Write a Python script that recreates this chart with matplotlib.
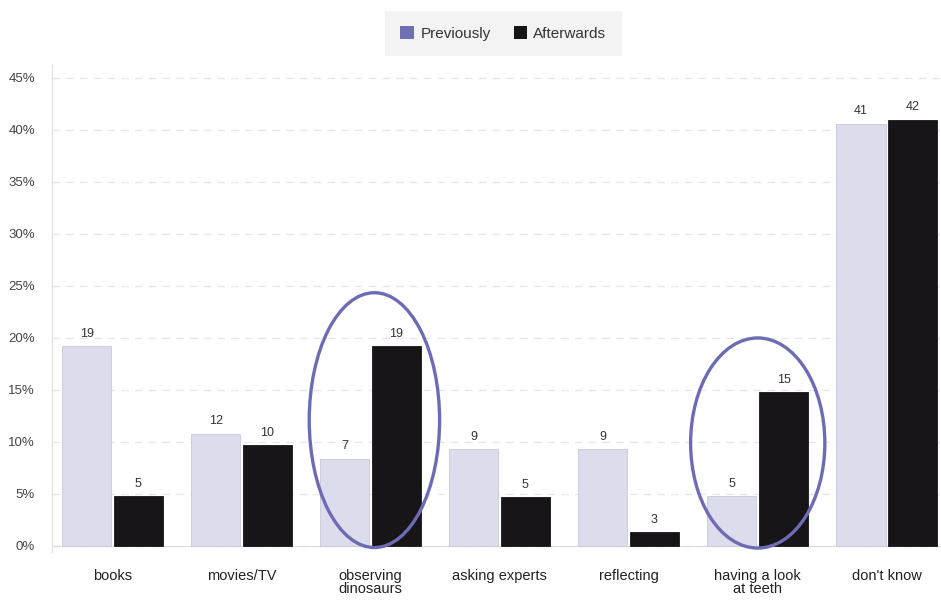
import numpy as np
import matplotlib.pyplot as plt
from matplotlib.patches import Ellipse, Patch

plt.rcParams['font.family'] = ['Liberation Sans Narrow', 'Liberation Sans', 'DejaVu Sans']

categories = ['books', 'movies/TV', 'observing\ndinosaurs', 'asking experts',
              'reflecting', 'having a look\nat teeth', "don't know"]
previously = [19.2, 10.8, 8.4, 9.3, 9.3, 4.8, 40.6]
afterwards = [4.8, 9.7, 19.2, 4.7, 1.3, 14.8, 41.0]
prev_labels = ['19', '12', '7', '9', '9', '5', '41']
after_labels = ['5', '10', '19', '5', '3', '15', '42']
yticks = [0, 5, 10, 15, 20, 25, 30, 35, 40, 45]

# ellipses: (category index, center %, width in categories, height %)
circled = [(2.03, 12.1, 1.01, 24.5), (5.0, 9.9, 1.04, 20.2)]

fig = plt.figure(figsize=(9.41, 6.01), dpi=100)
ax = fig.add_axes([0.055, 0.0815, 0.945, 0.8105])

x = np.arange(len(categories))
w = 0.38
ax.bar(x - 0.2, previously, w, color='#dcdcec', edgecolor='#c8c8d8', linewidth=0.6, zorder=2)
ax.bar(x + 0.2, afterwards, w, color='#171517', edgecolor='#171517', linewidth=0.6, zorder=2)

for i in range(len(categories)):
    ax.text(x[i] - 0.2, previously[i] + 0.6, prev_labels[i], ha='center', va='bottom',
            fontsize=9, color='#333333')
    ax.text(x[i] + 0.2, afterwards[i] + 0.6, after_labels[i], ha='center', va='bottom',
            fontsize=9, color='#333333')

for cx, cy, ew, eh in circled:
    ax.add_patch(Ellipse((cx, cy), ew, eh, fill=False, edgecolor='#6c6cb6',
                         linewidth=2.4, zorder=3))

ax.set_xlim(-0.47, 6.42)
ax.set_ylim(-0.58, 46.25)
ax.set_yticks(yticks)
ax.set_yticklabels([f'{t}%' for t in yticks], fontsize=9.5, color='#444444')
ax.set_xticks(x)
ax.set_xticklabels(categories, fontsize=10.5, color='#222222', linespacing=0.9, va='top')
ax.tick_params(axis='both', length=0)
ax.tick_params(axis='x', pad=12)
ax.tick_params(axis='y', pad=12)

ax.yaxis.grid(True, linestyle=(0, (6, 5)), color='#e6e6e6', linewidth=0.9, zorder=0)
ax.set_axisbelow(True)
ax.axhline(0, color='#dddddd', linewidth=0.9, zorder=1)
for s in ['top', 'right', 'bottom']:
    ax.spines[s].set_visible(False)
ax.spines['left'].set_color('#e0e0e0')

handles = [Patch(facecolor='#6f6fb4', edgecolor='none', label='Previously'),
           Patch(facecolor='#151515', edgecolor='none', label='Afterwards')]
leg = fig.legend(handles=handles, loc='center', bbox_to_anchor=(0.535, 0.944), ncol=2,
                 frameon=True, fontsize=11, handlelength=0.9, handleheight=0.9,
                 columnspacing=1.5, handletextpad=0.4, borderpad=1.0, fancybox=False)
leg.get_frame().set_facecolor('#f0f0f0')
leg.get_frame().set_edgecolor('none')
for t in leg.get_texts():
    t.set_color('#333333')

fig.savefig('out.png', dpi=100, facecolor='white')
